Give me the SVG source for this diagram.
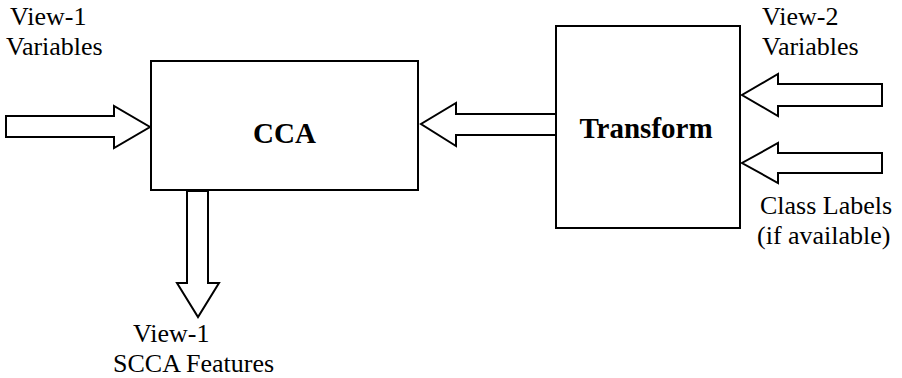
<svg xmlns="http://www.w3.org/2000/svg" width="902" height="378" viewBox="0 0 902 378">
<style>
.box{fill:#fff;stroke:#000;stroke-width:2}
.arr{fill:#fff;stroke:#000;stroke-width:2;stroke-linejoin:miter}
.lbl{font-family:"Liberation Serif","Times New Roman",serif;font-size:26px;fill:#000}
.title{font-family:"Liberation Serif","Times New Roman",serif;font-size:29px;font-weight:bold;fill:#000}
</style>
<rect width="902" height="378" fill="#fff"/>
<g id="connectors">
<polygon id="in-view1" class="arr" points="6,116 114,116 114,106 150,127 114,148 114,137 6,137"/>
<polygon id="out-scca" class="arr" points="187,191 208,191 208,283 219,283 198,317 177,283 187,283"/>
<polygon id="transform-to-cca" class="arr" points="556,114 456,114 456,103 421,124 456,146 456,135 556,135"/>
<polygon id="in-view2" class="arr" points="882,84 778,84 778,74 742,95 778,116 778,106 882,106"/>
<polygon id="in-labels" class="arr" points="882,153 778,153 778,143 742,163 778,183 778,173 882,173"/>
</g>
<g id="node-cca">
<rect class="box" x="151" y="61" width="267" height="129"/>
<text class="title" x="284.5" y="143" text-anchor="middle" font-size="30">CCA</text>
</g>
<g id="node-transform">
<rect class="box" x="556" y="26" width="184" height="202"/>
<text class="title" x="646" y="138" text-anchor="middle">Transform</text>
</g>
<g id="label-view1">
<text class="lbl" x="10" y="25">View-1</text>
<text class="lbl" x="6" y="55">Variables</text>
</g>
<g id="label-view2">
<text class="lbl" x="762" y="25">View-2</text>
<text class="lbl" x="762" y="55">Variables</text>
</g>
<g id="label-class">
<text class="lbl" x="760" y="214">Class Labels</text>
<text class="lbl" x="757" y="244">(if available)</text>
</g>
<g id="label-scca">
<text class="lbl" x="133" y="342">View-1</text>
<text class="lbl" x="113" y="372">SCCA Features</text>
</g>
</svg>
